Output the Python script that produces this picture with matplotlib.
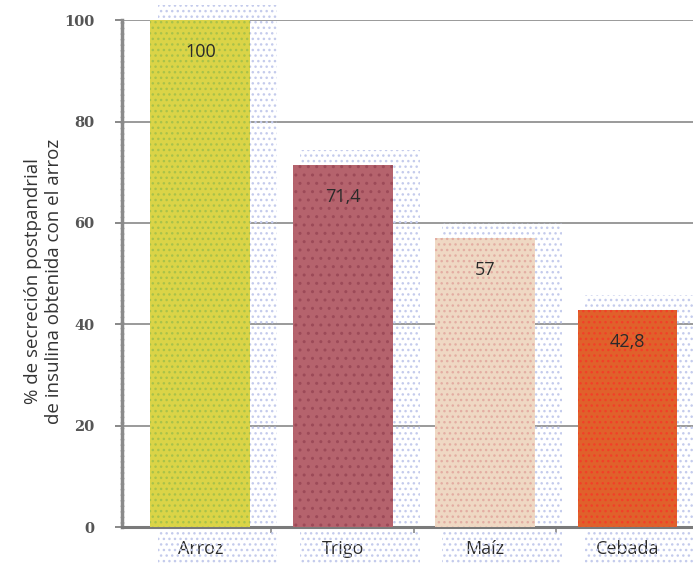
import numpy as np
import matplotlib.pyplot as plt

# Cereal insulin response relative to rice
cereales = ["Arroz", "Trigo", "Maíz", "Cebada"]
valores = [100, 71.4, 57, 42.8]
etiquetas = ["100", "71,4", "57", "42,8"]
colores = ["#dbd447", "#b5636d", "#efd8c3", "#e0612b"]
puntos = ["#a9c24a", "#9c4a58", "#e3ada3", "#f23f28"]
tramas = ["...", "..", "...", "..."]

plt.rcParams['font.family'] = ['Open Sans', 'DejaVu Sans']

fig = plt.figure(figsize=(6.93, 5.67), dpi=100)
ax = fig.add_axes([0.176, 0.0705, 0.824, 0.894])

x = np.arange(len(cereales))
ancho = 0.70

# stippled shadow behind each bar
for xi, v in zip(x, valores):
    sombra = plt.Rectangle((xi - ancho / 2 + 0.05, -7), ancho + 0.14, v + 10,
                           facecolor='none', edgecolor='#c4cbec', hatch='...',
                           lw=0, zorder=1, clip_on=False)
    ax.add_patch(sombra)

for xi, v, c, p, h in zip(x, valores, colores, puntos, tramas):
    ax.bar(xi, v, width=ancho, color=c, edgecolor=p, hatch=h,
           linewidth=0, zorder=3)

for xi, v, txt in zip(x, valores, etiquetas):
    ax.text(xi, v - 6.3, txt, ha='center', va='center', fontsize=13,
            color='#2a2a2a', zorder=4)

ax.set_xlim(-0.55, 3.46)
ax.set_ylim(0, 100)
ax.set_yticks(range(0, 101, 20))
ax.set_yticklabels([str(t) for t in range(0, 101, 20)],
                   family='DejaVu Serif', fontweight='bold', fontsize=10.5,
                   color='#555555')
ax.yaxis.grid(True, color='#9a9a9a', lw=1.4, zorder=0)
ax.set_axisbelow(True)

ax.set_xticks(x)
ax.set_xticklabels(cereales, fontsize=13, color='#2a2a2a')
ax.set_xticks([0.5, 1.5, 2.5], minor=True)
ax.tick_params(axis='x', which='major', length=0, pad=9)
ax.tick_params(axis='x', which='minor', length=4, color='#888888', width=1.2)
ax.tick_params(axis='y', length=5, color='#888888', width=1.4, pad=15)

for s in ['top', 'right']:
    ax.spines[s].set_visible(False)
ax.spines['left'].set_color('#8a8a8a')
ax.spines['left'].set_linewidth(2.5)
ax.spines['left'].set_linestyle((0, (1, 0.6)))
ax.spines['bottom'].set_color('#7a7a7a')
ax.spines['bottom'].set_linewidth(2.2)

ax.set_ylabel("% de secreción postpandrial\nde insulina obtenida con el arroz",
              fontsize=13.5, color='#333333', linespacing=1.25)
ax.yaxis.set_label_coords(-0.103, 0.485)

fig.savefig("out.png", dpi=100)
